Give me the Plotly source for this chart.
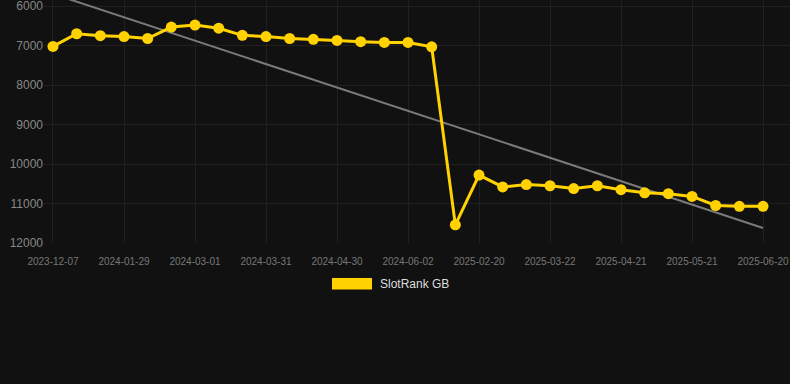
import plotly.graph_objects as go

dates = [
    "2023-12-07", "2023-12-25", "2024-01-11", "2024-01-29", "2024-02-09",
    "2024-02-19", "2024-03-01", "2024-03-11", "2024-03-21", "2024-03-31",
    "2024-04-10", "2024-04-20", "2024-04-30", "2024-05-11", "2024-05-22",
    "2024-06-02", "2024-06-12", "2025-02-10", "2025-02-20", "2025-03-02",
    "2025-03-12", "2025-03-22", "2025-04-01", "2025-04-11", "2025-04-21",
    "2025-05-01", "2025-05-11", "2025-05-21", "2025-05-31", "2025-06-10",
    "2025-06-20",
]
rank_gb = [
    7020, 6700, 6750, 6770, 6820, 6530, 6480, 6560, 6740, 6770,
    6820, 6840, 6870, 6900, 6920, 6920, 7030, 11540, 10280, 10580,
    10520, 10550, 10620, 10550, 10650, 10730, 10750, 10820, 11050, 11070,
    11070,
]
trend_values = [5690, 11620]
tick_dates = dates[::3]
y_ticks = [6000, 7000, 8000, 9000, 10000, 11000, 12000]
series_name = "SlotRank GB"

GOLD = "#FFD200"
BG = "#111111"
GRID = "#202020"

fig = go.Figure()
fig.add_trace(go.Scatter(
    x=[dates[0], dates[-1]], y=trend_values, mode="lines",
    line=dict(color="#7a7a7a", width=2), showlegend=False, hoverinfo="skip",
))
fig.add_trace(go.Scatter(
    x=dates, y=rank_gb, mode="lines+markers", name=series_name,
    line=dict(color=GOLD, width=3),
    marker=dict(color=GOLD, size=11, line=dict(color=GOLD, width=0)),
    cliponaxis=False, showlegend=False,
))

fig.update_layout(
    width=790, height=384,
    margin=dict(l=44, r=0, t=0, b=141),
    paper_bgcolor=BG, plot_bgcolor=BG,
    font=dict(family="Liberation Sans, Arial, sans-serif"),
    showlegend=False,
)
fig.update_xaxes(
    type="category", categoryorder="array", categoryarray=dates,
    range=[-0.38, 31.14],
    tickmode="array", tickvals=tick_dates, ticktext=tick_dates,
    showgrid=True, gridcolor=GRID, gridwidth=1,
    ticks="outside", ticklen=9, tickcolor=BG,
    tickfont=dict(size=10, color="#777777"),
    showline=False, zeroline=False,
)
fig.update_yaxes(
    range=[12000, 5845], tickmode="array", tickvals=y_ticks,
    ticktext=[str(v) for v in y_ticks], ticklabeloverflow="allow",
    showgrid=True, gridcolor=GRID, gridwidth=1,
    tickfont=dict(size=12, color="#888888"),
    ticks="", showline=False, zeroline=False,
)

fig.add_shape(type="rect", xref="paper", yref="paper",
              x0=(332 - 44) / 746, x1=(372 - 44) / 746,
              y0=(243 - 289.5) / 243, y1=(243 - 278) / 243,
              fillcolor=GOLD, line=dict(width=0))
fig.add_annotation(text=series_name, xref="paper", yref="paper",
                   x=(378 - 44) / 746, y=(243 - 284) / 243,
                   xanchor="left", yanchor="middle", showarrow=False,
                   font=dict(size=12, color="#dddddd"))

fig.write_html(
    "out.html",
    config={"displayModeBar": False},
    post_script="document.body.style.margin='0';document.body.style.background='#111111';",
)
